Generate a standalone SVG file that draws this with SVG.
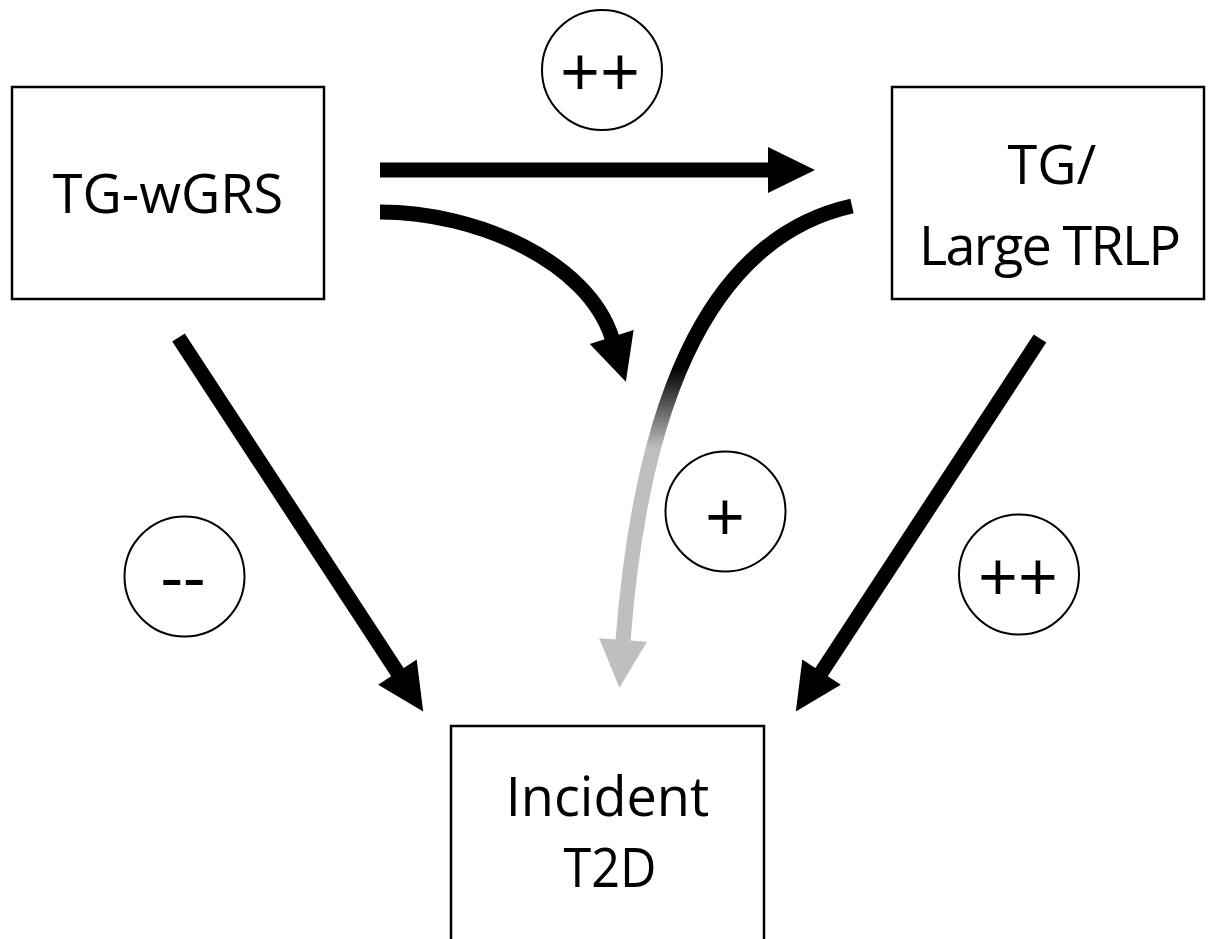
<svg xmlns="http://www.w3.org/2000/svg" width="1209" height="939" viewBox="0 0 1209 939">
<style>
.box{fill:#fff;stroke:#000;stroke-width:2.5}
.lbl{fill:#fff;stroke:#000;stroke-width:2}
.t{font-family:"Open Sans","Noto Sans",sans-serif;font-size:54px;fill:#000;text-anchor:middle}
.s{font-family:"Open Sans","Noto Sans",sans-serif;font-size:70px;fill:#000;text-anchor:middle}
.a{fill:none;stroke:#000;stroke-width:15;marker-end:url(#ah)}
</style>
<defs>
<marker id="ah" markerUnits="userSpaceOnUse" markerWidth="48" markerHeight="48" refX="1" refY="23" orient="auto" overflow="visible">
<path d="M0,0 L47,23 L0,46 Z" fill="#000"/>
</marker>
<marker id="ahg" markerUnits="userSpaceOnUse" markerWidth="48" markerHeight="48" refX="1" refY="24" orient="auto" overflow="visible">
<path d="M0,0 L48,24 L0,48 Z" fill="#bfbfbf"/>
</marker>
<linearGradient id="fade" gradientUnits="userSpaceOnUse" x1="0" y1="368" x2="0" y2="448">
<stop offset="0" stop-color="#000"/>
<stop offset="1" stop-color="#bfbfbf"/>
</linearGradient>
</defs>
<g id="connectors">
<path class="a" d="M380,170 L769,170"/>
<path class="a" d="M380,212 C478,212 588,262 612,338"/>
<path d="M852,206 C700,240 640,420 623,641" fill="none" stroke="url(#fade)" stroke-width="15" marker-end="url(#ahg)"/>
<path class="a" d="M178.5,337.5 L398,673"/>
<path class="a" d="M1040,338.5 L821,673"/>
</g>
<g id="n-tgwgrs">
<rect class="box" x="12" y="87" width="312" height="212"/>
<text class="t" x="168" y="213">TG-wGRS</text>
</g>
<g id="n-trlp">
<rect class="box" x="892" y="87" width="312" height="212"/>
<text class="t" x="1052" y="184">TG/</text>
<text class="t" x="1050" y="265" textLength="262" lengthAdjust="spacing">Large TRLP</text>
</g>
<g id="n-t2d">
<rect class="box" x="451" y="726" width="313" height="230"/>
<text class="t" x="607.5" y="816">Incident</text>
<text class="t" x="610" y="887" textLength="93" lengthAdjust="spacingAndGlyphs">T2D</text>
</g>
<g id="l-top">
<circle class="lbl" cx="602" cy="70" r="60"/>
<text class="s" x="600" y="97">++</text>
</g>
<g id="l-minus">
<circle class="lbl" cx="184.5" cy="576.5" r="60"/>
<text class="s" x="183" y="601">--</text>
</g>
<g id="l-plus">
<circle class="lbl" cx="725.5" cy="511.5" r="60"/>
<text class="s" x="725" y="542">+</text>
</g>
<g id="l-right">
<circle class="lbl" cx="1019" cy="574.5" r="60"/>
<text class="s" x="1018" y="602">++</text>
</g>
</svg>
